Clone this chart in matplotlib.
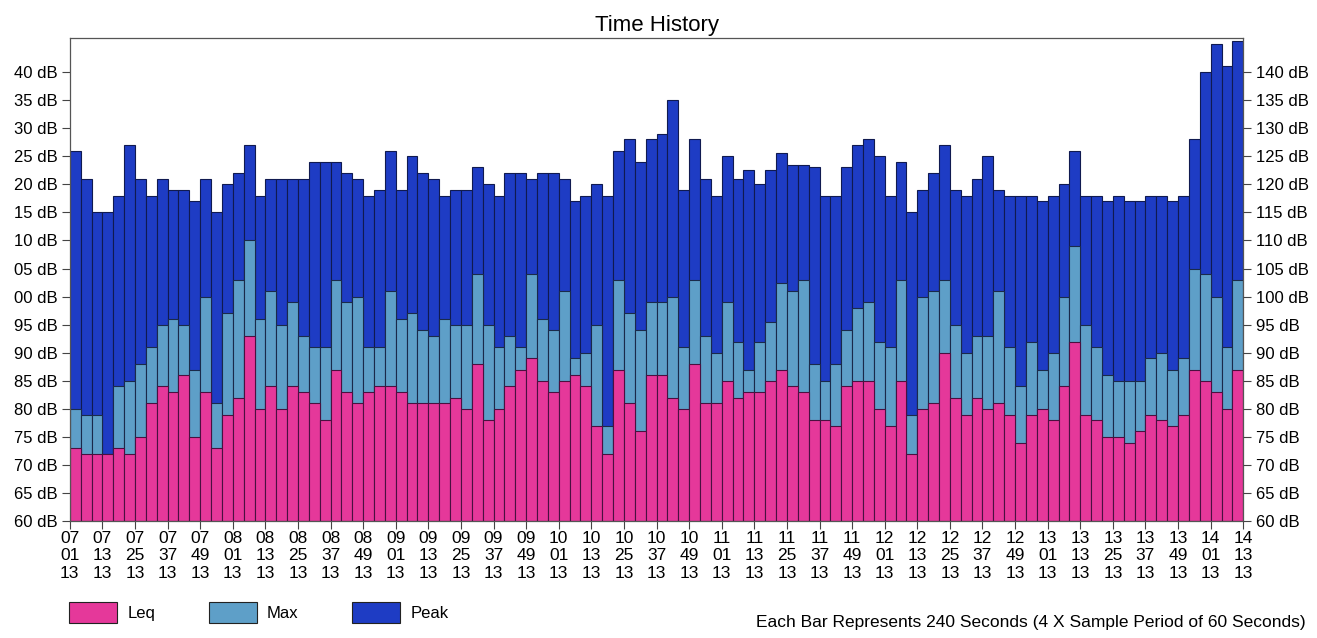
import numpy as np
import matplotlib
matplotlib.use("Agg")
import matplotlib.pyplot as plt
from matplotlib.patches import Patch

plt.rcParams['font.family'] = ['Liberation Sans', 'DejaVu Sans']

# ---- data (dB), one value per 240 s bar, 07:01:13 -> 14:13:13 ----
peak = [126, 121, 115, 115, 118, 127, 121, 118, 121, 119, 119, 117, 121, 115, 120, 122, 127, 118,
        121, 121, 121, 121, 124, 124, 124, 122, 121, 118, 119, 126, 119, 125, 122, 121, 118, 119,
        119, 123, 120, 118, 122, 122, 121, 122, 122, 121, 117, 118, 120, 118, 126, 128, 124, 128,
        129, 135, 119, 128, 121, 118, 125, 121, 122.5, 120, 122.5, 125.5, 123.5, 123.5, 123, 118, 118, 123,
        127, 128, 125, 118, 124, 115, 119, 122, 127, 119, 118, 121, 125, 119, 118, 118, 118, 117,
        118, 120, 126, 118, 118, 117, 118, 117, 117, 118, 118, 117, 118, 128, 140, 145, 141, 145.5]
maxv = [80, 79, 79, 72, 84, 85, 88, 91, 95, 96, 95, 87, 100, 81, 97, 103, 110, 96,
        101, 95, 99, 93, 91, 91, 103, 99, 100, 91, 91, 101, 96, 97, 94, 93, 96, 95,
        95, 104, 95, 91, 93, 91, 104, 96, 94, 101, 89, 90, 95, 77, 103, 97, 94, 99,
        99, 100, 91, 103, 93, 90, 99, 92, 87, 92, 95.5, 102.5, 101, 103, 88, 85, 88, 94,
        98, 99, 92, 91, 103, 79, 100, 101, 103, 95, 90, 93, 93, 101, 91, 84, 92, 87,
        90, 100, 109, 95, 91, 86, 85, 85, 85, 89, 90, 87, 89, 105, 104, 100, 91, 103]
leq = [73, 72, 72, 72, 73, 72, 75, 81, 84, 83, 86, 75, 83, 73, 79, 82, 93, 80,
       84, 80, 84, 83, 81, 78, 87, 83, 81, 83, 84, 84, 83, 81, 81, 81, 81, 82,
       80, 88, 78, 80, 84, 87, 89, 85, 83, 85, 86, 84, 77, 72, 87, 81, 76, 86,
       86, 82, 80, 88, 81, 81, 85, 82, 83, 83, 85, 87, 84, 83, 78, 78, 77, 84,
       85, 85, 80, 77, 85, 72, 80, 81, 90, 82, 79, 82, 80, 81, 79, 74, 79, 80,
       78, 84, 92, 79, 78, 75, 75, 74, 76, 79, 78, 77, 79, 87, 85, 83, 80, 87]

tick_labels = []
for h in range(7, 15):
    for m in (1, 13, 25, 37, 49):
        if h == 14 and m > 13:
            break
        tick_labels.append(f"{h:02d}\n{m:02d}\n13")

series_names = ["Leq", "Max", "Peak"]
c_leq = "#E5389A"
c_max = "#5E9FC8"
c_peak = "#1E3CC4"
y_ticks = list(range(60, 145, 5))

# ---- figure ----
fig = plt.figure(figsize=(13.17, 6.38), dpi=100)
ax = fig.add_axes([0.053, 0.183, 0.891, 0.757])

n = len(peak)
x = np.arange(n)
base = 60
kw = dict(width=1.0, align='edge', bottom=base, linewidth=0.8)
ax.bar(x, np.array(peak) - base, color=c_peak, edgecolor="#101a50", **kw)
ax.bar(x, np.array(maxv) - base, color=c_max, edgecolor="#1a2a4a", **kw)
ax.bar(x, np.array(leq) - base, color=c_leq, edgecolor="#4a1040", **kw)

ax.set_xlim(0, n)
ax.set_ylim(60, 146)
ax.set_xticks(np.arange(0, n + 1, 3))
ax.set_xticklabels(tick_labels, fontsize=12.5, linespacing=1.2)
ax.set_yticks(y_ticks)
ax.set_yticklabels([f"{v % 100:02d} dB" for v in y_ticks], fontsize=12)
ax.tick_params(axis='both', direction='out', length=6, width=0.8, color='#444444')
ax.tick_params(axis='x', pad=1)
ax.tick_params(axis='y', pad=3)
for s in ax.spines.values():
    s.set_color('#555555')
    s.set_linewidth(0.9)

ax2 = ax.twinx()
ax2.set_ylim(ax.get_ylim())
ax2.set_yticks(y_ticks)
ax2.set_yticklabels([f"{v} dB" for v in y_ticks], fontsize=12)
ax2.tick_params(axis='y', direction='out', length=6, width=0.8, color='#444444', pad=3)
for s in ax2.spines.values():
    s.set_visible(False)

ax.set_title("Time History", fontsize=16, pad=5)

handles = [Patch(facecolor=c, edgecolor='#222222', linewidth=0.8) for c in (c_leq, c_max, c_peak)]
fig.legend(handles, series_names, loc='lower left', bbox_to_anchor=(0.041, 0.0), ncol=3,
           frameon=False, fontsize=12, handlelength=2.9, handleheight=1.6,
           handletextpad=0.6, columnspacing=3.2)

fig.text(0.991, 0.012, "Each Bar Represents 240 Seconds (4 X Sample Period of 60 Seconds)",
         ha='right', va='bottom', fontsize=12.5)

fig.savefig("out.png", dpi=100, facecolor='white')
